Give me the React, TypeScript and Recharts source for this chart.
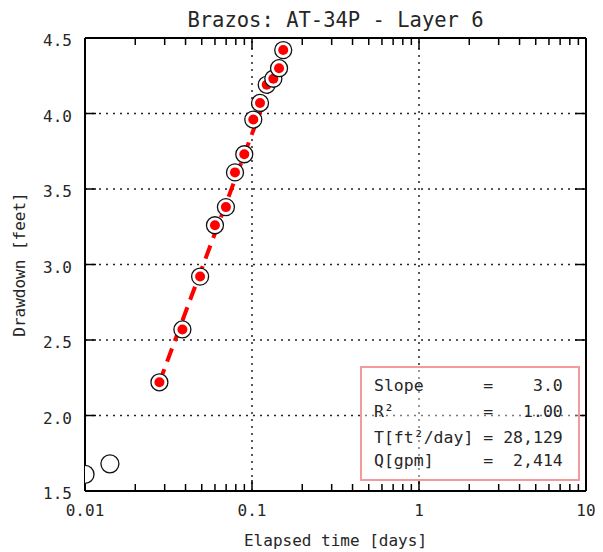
import React from "react";
import { ComposedChart, Line, Scatter, XAxis, YAxis, ReferenceLine } from "recharts";

const title = "Brazos: AT-34P - Layer 6";
const xLabel = "Elapsed time [days]";
const yLabel = "Drawdown [feet]";

// points used in the fit
const usedTimes = [0.0279, 0.0383, 0.0489, 0.06, 0.0698, 0.0791, 0.0899, 0.1018, 0.1117, 0.1225, 0.1342, 0.1452, 0.1538];
const usedDrawdown = [2.22, 2.57, 2.92, 3.26, 3.38, 3.61, 3.73, 3.96, 4.07, 4.19, 4.23, 4.3, 4.42];

// early points left out of the fit
const skippedTimes = [0.01, 0.0141];
const skippedDrawdown = [1.61, 1.68];

// fitted straight line (semi-log), end points
const fitTimes = [0.0279, 0.1538];
const fitDrawdown = [2.22, 4.42];

const xMajorTicks = [0.01, 0.1, 1, 10];
const xTickLabels = ["0.01", "0.1", "1", "10"];
const xMinorTicks = [
  0.02, 0.03, 0.04, 0.05, 0.06, 0.07, 0.08, 0.09,
  0.2, 0.3, 0.4, 0.5, 0.6, 0.7, 0.8, 0.9,
  2, 3, 4, 5, 6, 7, 8, 9,
];
const yTicks = [1.5, 2, 2.5, 3, 3.5, 4, 4.5];
const yTickLabels = ["1.5", "2.0", "2.5", "3.0", "3.5", "4.0", "4.5"];
const xGrid = [0.1, 1];
const yGrid = [2, 2.5, 3, 3.5, 4];

const statLabels = ["Slope", "R²", "T[ft²/day]", "Q[gpm]"];
const statValues = ["3.0", "1.00", "28,129", "2,414"];

const FONT = "'DejaVu Sans Mono', monospace";
const TEXT = "#262626";
const RED = "#ff0000";

const W = 603;
const H = 552;
const X_DOMAIN = [0.01, 10];
const Y_DOMAIN = [1.5, 4.5];

const usedData = usedTimes.map((t, i) => ({ x: t, y: usedDrawdown[i] }));
const skippedData = skippedTimes.map((t, i) => ({ x: t, y: skippedDrawdown[i] }));
const fitData = fitTimes.map((t, i) => ({ x: t, y: fitDrawdown[i] }));

const BottomLabel = (props: any) => {
  const { x, y, payload } = props;
  const i = xMajorTicks.indexOf(payload.value);
  if (i < 0) return <g />;
  return (
    <text x={x} y={y + 25} textAnchor="middle" fontFamily={FONT} fontSize={16} fill={TEXT}>
      {xTickLabels[i]}
    </text>
  );
};

const LeftLabel = (props: any) => {
  const { x, y, payload } = props;
  const i = yTicks.indexOf(payload.value);
  return (
    <text x={x - 13} y={y + 8} textAnchor="end" fontFamily={FONT} fontSize={16} fill={TEXT}>
      {yTickLabels[i]}
    </text>
  );
};

const NoLabel = () => <g />;

const UsedDot = (p: any) => (
  <g>
    <circle cx={p.cx} cy={p.cy} r={8.5} fill="#fff" stroke="#111" strokeWidth={1.3} />
    <circle cx={p.cx} cy={p.cy} r={5} fill={RED} />
  </g>
);

const SkippedDot = (p: any) => (
  <circle cx={p.cx} cy={p.cy} r={9} fill="#fff" stroke="#111" strokeWidth={1.3} />
);

const frame = { stroke: "#000", strokeWidth: 2 };
const tickMark = { stroke: "#000", strokeWidth: 1.5 };

// mirrored axes only carry the inward tick marks
const xTickAxis = (id: string, orientation: "top" | "bottom", ticks: number[], size: number, line: boolean) => (
  <XAxis
    key={id}
    xAxisId={id}
    orientation={orientation}
    mirror
    type="number"
    dataKey="x"
    scale="log"
    domain={X_DOMAIN}
    ticks={ticks}
    interval={0}
    allowDataOverflow
    height={1}
    tickSize={size}
    tickMargin={0}
    tickLine={tickMark}
    stroke="#000"
    axisLine={line ? frame : false}
    tick={<NoLabel />}
  />
);

const yTickAxis = (id: string, orientation: "left" | "right", line: boolean) => (
  <YAxis
    key={id}
    yAxisId={id}
    orientation={orientation}
    mirror
    type="number"
    dataKey="y"
    domain={Y_DOMAIN}
    ticks={yTicks}
    interval={0}
    allowDataOverflow
    width={1}
    tickSize={11}
    tickMargin={0}
    tickLine={tickMark}
    stroke="#000"
    axisLine={line ? frame : false}
    tick={<NoLabel />}
  />
);

export default function App() {
  const lineY = [391, 417, 443, 466];
  return (
    <div style={{ position: "absolute", left: 0, top: 0, width: W, height: H, background: "#fff" }}>
      <ComposedChart width={W} height={H} margin={{ top: 38, right: 17, bottom: 0, left: 0 }}>
        <XAxis
          xAxisId="b"
          type="number"
          dataKey="x"
          scale="log"
          domain={X_DOMAIN}
          ticks={xMajorTicks}
          interval={0}
          allowDataOverflow
          height={61}
          tickSize={0}
          tickMargin={0}
          tickLine={false}
          axisLine={frame}
          tick={<BottomLabel />}
          label={{ value: xLabel, position: "insideBottom", offset: 6, fill: TEXT, fontSize: 16, fontFamily: FONT }}
        />
        <YAxis
          yAxisId="l"
          type="number"
          dataKey="y"
          domain={Y_DOMAIN}
          ticks={yTicks}
          interval={0}
          allowDataOverflow
          width={85}
          tickSize={0}
          tickMargin={0}
          tickLine={false}
          axisLine={frame}
          tick={<LeftLabel />}
          label={{
            value: yLabel,
            angle: -90,
            position: "insideLeft",
            offset: 19,
            fill: TEXT,
            fontSize: 16,
            fontFamily: FONT,
            style: { textAnchor: "middle" },
          }}
        />
        {xTickAxis("bM", "bottom", xMajorTicks, 11, false)}
        {xTickAxis("bm", "bottom", xMinorTicks, 6, false)}
        {xTickAxis("tM", "top", xMajorTicks, 11, true)}
        {xTickAxis("tm", "top", xMinorTicks, 6, false)}
        {yTickAxis("lM", "left", false)}
        {yTickAxis("rM", "right", true)}
        {xGrid.map((v) => (
          <ReferenceLine key={"gx" + v} xAxisId="b" yAxisId="l" x={v} stroke="#222" strokeWidth={1.5} strokeDasharray="2 5" />
        ))}
        {yGrid.map((v) => (
          <ReferenceLine key={"gy" + v} xAxisId="b" yAxisId="l" y={v} stroke="#222" strokeWidth={1.5} strokeDasharray="2 5" />
        ))}
        <Line
          xAxisId="b"
          yAxisId="l"
          data={fitData}
          dataKey="y"
          stroke={RED}
          strokeWidth={4}
          strokeDasharray="14 8"
          dot={false}
          activeDot={false}
          isAnimationActive={false}
        />
        <Scatter xAxisId="b" yAxisId="l" data={skippedData} dataKey="y" shape={<SkippedDot />} isAnimationActive={false} />
        <Scatter xAxisId="b" yAxisId="l" data={usedData} dataKey="y" shape={<UsedDot />} isAnimationActive={false} />
      </ComposedChart>
      <svg width={W} height={H} style={{ position: "absolute", left: 0, top: 0, pointerEvents: "none" }}>
        <text x={335.5} y={27} textAnchor="middle" fontFamily={FONT} fontSize={20.5} fill={TEXT}>
          {title}
        </text>
        <rect x={361} y={367} width={218} height={113} fill="rgba(255,255,255,0.4)" stroke="#f59a9a" strokeWidth={2} />
        {statLabels.map((l, i) => (
          <text key={l} x={374} y={lineY[i]} fontFamily={FONT} fontSize={16.5} fill={TEXT} style={{ whiteSpace: "pre" }}>
            {l.padEnd(11) + "= " + statValues[i].padStart(6)}
          </text>
        ))}
      </svg>
    </div>
  );
}
